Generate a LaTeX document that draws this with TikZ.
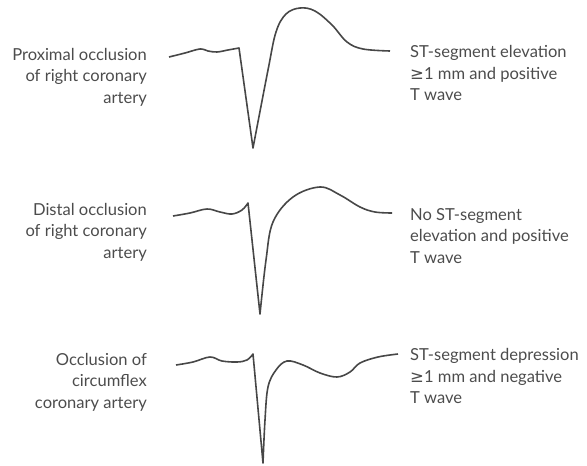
\documentclass[tikz,border=0pt]{standalone}
\usepackage{fontspec}
\setmainfont{Lato}
\newfontfamily\symfont{DejaVu Sans}
\usepackage{tikz}

\tikzset{
    ecg/.style={line width=1.6bp, draw=black!72, line join=round},
    lbl/.style={text=black!70, font=\fontsize{16.6}{21.5}\selectfont, inner sep=0pt},
}

\begin{document}
\begin{tikzpicture}[x=1bp,y=-1bp]
            \useasboundingbox (0,0) rectangle (587,466);

            % proximal right coronary occlusion
            \draw[ecg] plot[smooth,tension=0.6] coordinates
                    {(169,57) (185,53) (200,49) (208,51) (217,52) (228,50) (239,48)}
                -- (253,148)
                -- plot[smooth,tension=0.6] coordinates
                    {(253,148) (268,70) (276,32) (286,14) (300,8) (315,11) (332,25) (347,42) (363,49) (390,51)};

            % distal right coronary occlusion
            \draw[ecg] plot[smooth,tension=0.6] coordinates
                    {(173,216) (190,213) (207,209) (220,212) (232,214) (242,210) (248,203)}
                -- (260,314)
                -- plot[smooth,tension=0.6] coordinates
                    {(260,314) (266,260) (273,222) (293,197) (320,187) (340,195) (360,207) (375,212) (392,213)};

            % circumflex occlusion
            \draw[ecg] plot[smooth,tension=0.6] coordinates
                    {(176,365) (193,362) (210,357) (222,361) (237,362) (247,360) (253,354)}
                -- (263,463)
                -- plot[smooth,tension=0.6] coordinates
                    {(263,463) (265,420) (268,387) (276,370) (287,361) (303,365) (320,373) (337,377) (350,372) (360,363) (378,357) (398,354)};

            \node[lbl, align=right, anchor=east] (site1) at (147,77)
                {Proximal occlusion\\of right coronary\\artery};
            \node[lbl, align=right, anchor=east] (site2) at (147,232)
                {Distal occlusion\\of right coronary\\artery};
            \node[lbl, align=right, anchor=east] (site3) at (147,382)
                {Occlusion of\\circumflex\\coronary artery};

            \node[lbl, align=left, anchor=west] (ecg1) at (410,73)
                {ST-segment elevation\\{\symfont ≥}1 mm and positive\\T wave};
            \node[lbl, align=left, anchor=west] (ecg2) at (410,236)
                {No ST-segment\\elevation and positive\\T wave};
            \node[lbl, align=left, anchor=west] (ecg3) at (410,376)
                {ST-segment depression\\{\symfont ≥}1 mm and negative\\T wave};
        \end{tikzpicture}
\end{document}
